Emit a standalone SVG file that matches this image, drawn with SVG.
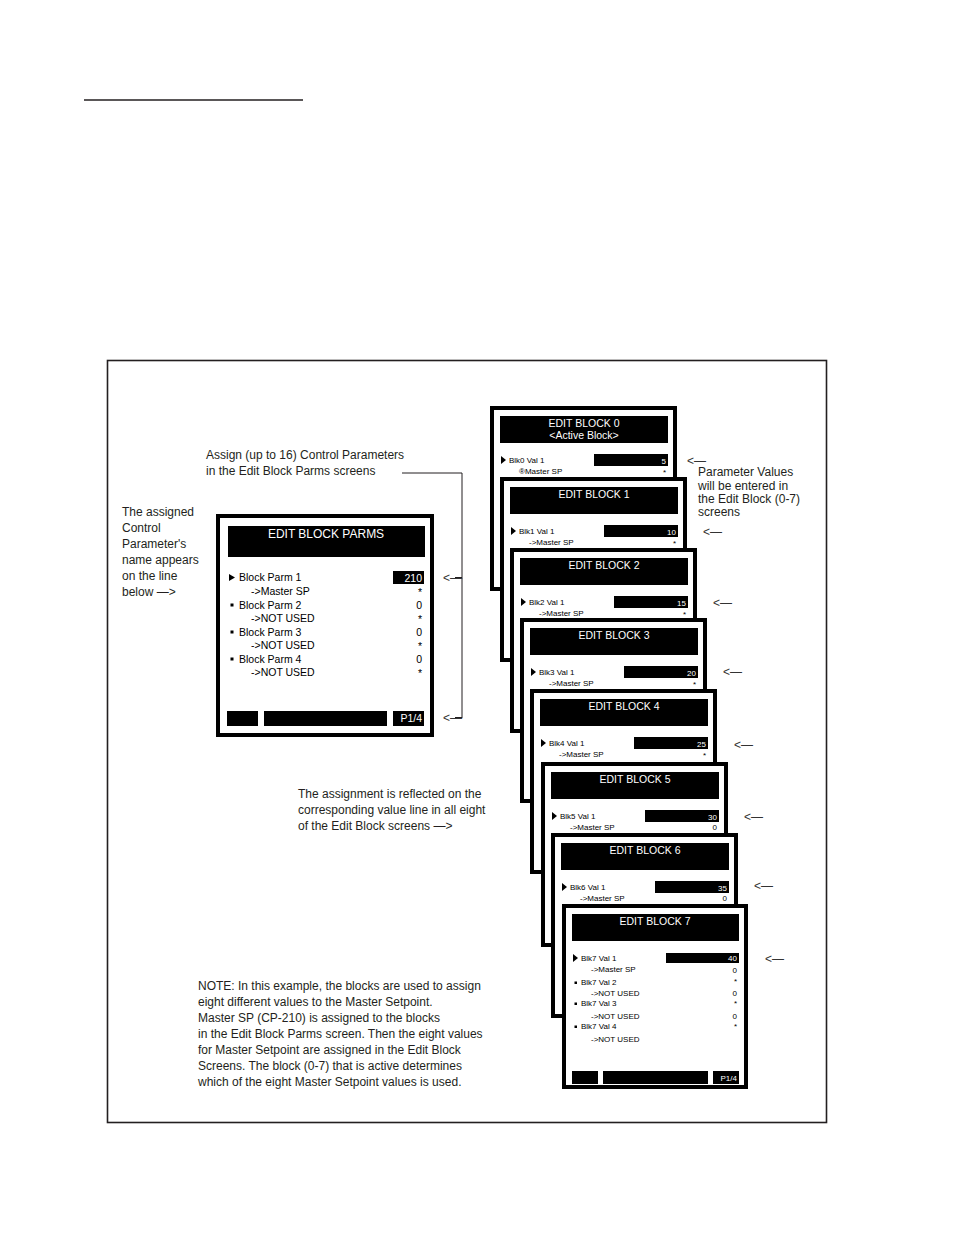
<svg xmlns="http://www.w3.org/2000/svg" width="954" height="1235" viewBox="0 0 954 1235">
<style>
text{font-family:"Liberation Sans",Arial,sans-serif;fill:#231f20}
.t{font-size:12px}
.scr{fill:#fff;stroke:#000;stroke-width:4}
.blk{fill:#000}
.ttl{font-size:10.5px;fill:#fff;text-anchor:middle}
.s8{font-size:8px;fill:#000}
.s10{font-size:10.5px;fill:#000}
.w{fill:#fff}
.r{text-anchor:end}
.cn{fill:none;stroke:#231f20;stroke-width:1}
.ar{font-size:12px;fill:#333}
</style>
<rect width="954" height="1235" fill="#fff"/>
<line x1="84" y1="100" x2="303" y2="100" stroke="#231f20" stroke-width="1.5"/>
<rect id="frame" x="107.5" y="360.5" width="719" height="762" fill="none" stroke="#231f20" stroke-width="1.6"/>

<g id="notes">
<text class="t" x="206" y="459">Assign (up to 16) Control Parameters</text>
<text class="t" x="206" y="475">in the Edit Block Parms screens</text>
<text class="t" x="122" y="516">The assigned</text>
<text class="t" x="122" y="532">Control</text>
<text class="t" x="122" y="548">Parameter's</text>
<text class="t" x="122" y="564">name appears</text>
<text class="t" x="122" y="580">on the line</text>
<text class="t" x="122" y="596">below —&gt;</text>
<text class="t" x="698" y="476">Parameter Values</text>
<text class="t" x="698" y="490">will be entered in</text>
<text class="t" x="698" y="503">the Edit Block (0-7)</text>
<text class="t" x="698" y="516">screens</text>
<text class="t" x="298" y="798">The assignment is reflected on the</text>
<text class="t" x="298" y="814">corresponding value line in all eight</text>
<text class="t" x="298" y="830">of the Edit Block screens —&gt;</text>
<text class="t" x="198" y="990">NOTE: In this example, the blocks are used to assign</text>
<text class="t" x="198" y="1006">eight different values to the Master Setpoint.</text>
<text class="t" x="198" y="1022">Master SP (CP-210) is assigned to the blocks</text>
<text class="t" x="198" y="1038">in the Edit Block Parms screen.  Then the eight values</text>
<text class="t" x="198" y="1054">for Master Setpoint are assigned in the Edit Block</text>
<text class="t" x="198" y="1070">Screens. The block (0-7) that is active determines</text>
<text class="t" x="198" y="1086">which of the eight Master Setpoint values is used.</text>
</g>

<g id="parms">
<rect class="scr" x="218" y="516" width="214" height="219"/>
<rect class="blk" x="228" y="526" width="197" height="31"/>
<text x="326" y="538" style="font-size:12px;fill:#fff;text-anchor:middle">EDIT BLOCK PARMS</text>
<path d="M229,574 L235,577.5 L229,581Z"/>
<text class="s10" x="239" y="581">Block Parm 1</text>
<text class="s10" x="251" y="595">-&gt;Master SP</text>
<rect class="blk" x="393" y="571" width="31" height="13"/>
<text class="s10 w r" x="422" y="581.5">210</text>
<text class="s10 r" x="422" y="596">*</text>
<rect class="blk" x="230.5" y="603.5" width="3" height="3"/>
<text class="s10" x="239" y="608.5">Block Parm 2</text>
<text class="s10" x="251" y="622">-&gt;NOT USED</text>
<text class="s10 r" x="422" y="609">0</text>
<text class="s10 r" x="422" y="623">*</text>
<rect class="blk" x="230.5" y="630.5" width="3" height="3"/>
<text class="s10" x="239" y="635.5">Block Parm 3</text>
<text class="s10" x="251" y="649">-&gt;NOT USED</text>
<text class="s10 r" x="422" y="636">0</text>
<text class="s10 r" x="422" y="650">*</text>
<rect class="blk" x="230.5" y="657.5" width="3" height="3"/>
<text class="s10" x="239" y="662.5">Block Parm 4</text>
<text class="s10" x="251" y="676">-&gt;NOT USED</text>
<text class="s10 r" x="422" y="663">0</text>
<text class="s10 r" x="422" y="677">*</text>
<rect class="blk" x="227" y="711" width="31" height="15"/>
<rect class="blk" x="264" y="711" width="123" height="15"/>
<rect class="blk" x="393" y="711" width="31" height="15"/>
<text class="s10 w r" x="422" y="722">P1/4</text>
</g>

<g id="block0" transform="translate(490,406)">
<rect class="scr" x="2" y="2" width="183" height="181"/>
<rect class="blk" x="10" y="10" width="168" height="27"/>
<text class="ttl" x="94" y="21">EDIT BLOCK 0</text>
<text class="ttl" x="94" y="33">&lt;Active Block&gt;</text>
<path d="M11,50 L16,54 L11,58Z"/>
<text class="s8" x="19" y="57">Blk0 Val 1</text>
<text class="s8" x="29" y="68">®Master SP</text>
<rect class="blk" x="104" y="48" width="74" height="12"/>
<text class="s8 w r" x="176" y="57.5">5</text>
<text class="s8 r" x="176" y="69">*</text>
</g>
<g id="block1" transform="translate(500,477)">
<rect class="scr" x="2" y="2" width="183" height="181"/>
<rect class="blk" x="10" y="10" width="168" height="27"/>
<text class="ttl" x="94" y="21">EDIT BLOCK 1</text>
<path d="M11,50 L16,54 L11,58Z"/>
<text class="s8" x="19" y="57">Blk1 Val 1</text>
<text class="s8" x="29" y="68">-&gt;Master SP</text>
<rect class="blk" x="104" y="48" width="74" height="12"/>
<text class="s8 w r" x="176" y="57.5">10</text>
<text class="s8 r" x="176" y="69">*</text>
</g>
<g id="block2" transform="translate(510,548)">
<rect class="scr" x="2" y="2" width="183" height="181"/>
<rect class="blk" x="10" y="10" width="168" height="27"/>
<text class="ttl" x="94" y="21">EDIT BLOCK 2</text>
<path d="M11,50 L16,54 L11,58Z"/>
<text class="s8" x="19" y="57">Blk2 Val 1</text>
<text class="s8" x="29" y="68">-&gt;Master SP</text>
<rect class="blk" x="104" y="48" width="74" height="12"/>
<text class="s8 w r" x="176" y="57.5">15</text>
<text class="s8 r" x="176" y="69">*</text>
</g>
<g id="block3" transform="translate(520,618)">
<rect class="scr" x="2" y="2" width="183" height="181"/>
<rect class="blk" x="10" y="10" width="168" height="27"/>
<text class="ttl" x="94" y="21">EDIT BLOCK 3</text>
<path d="M11,50 L16,54 L11,58Z"/>
<text class="s8" x="19" y="57">Blk3 Val 1</text>
<text class="s8" x="29" y="68">-&gt;Master SP</text>
<rect class="blk" x="104" y="48" width="74" height="12"/>
<text class="s8 w r" x="176" y="57.5">20</text>
<text class="s8 r" x="176" y="69">*</text>
</g>
<g id="block4" transform="translate(530,689)">
<rect class="scr" x="2" y="2" width="183" height="181"/>
<rect class="blk" x="10" y="10" width="168" height="27"/>
<text class="ttl" x="94" y="21">EDIT BLOCK 4</text>
<path d="M11,50 L16,54 L11,58Z"/>
<text class="s8" x="19" y="57">Blk4 Val 1</text>
<text class="s8" x="29" y="68">-&gt;Master SP</text>
<rect class="blk" x="104" y="48" width="74" height="12"/>
<text class="s8 w r" x="176" y="57.5">25</text>
<text class="s8 r" x="176" y="69">*</text>
</g>
<g id="block5" transform="translate(541,762)">
<rect class="scr" x="2" y="2" width="183" height="181"/>
<rect class="blk" x="10" y="10" width="168" height="27"/>
<text class="ttl" x="94" y="21">EDIT BLOCK 5</text>
<path d="M11,50 L16,54 L11,58Z"/>
<text class="s8" x="19" y="57">Blk5 Val 1</text>
<text class="s8" x="29" y="68">-&gt;Master SP</text>
<rect class="blk" x="104" y="48" width="74" height="12"/>
<text class="s8 w r" x="176" y="57.5">30</text>
<text class="s8 r" x="176" y="68">0</text>
</g>
<g id="block6" transform="translate(551,833)">
<rect class="scr" x="2" y="2" width="183" height="181"/>
<rect class="blk" x="10" y="10" width="168" height="27"/>
<text class="ttl" x="94" y="21">EDIT BLOCK 6</text>
<path d="M11,50 L16,54 L11,58Z"/>
<text class="s8" x="19" y="57">Blk6 Val 1</text>
<text class="s8" x="29" y="68">-&gt;Master SP</text>
<rect class="blk" x="104" y="48" width="74" height="12"/>
<text class="s8 w r" x="176" y="57.5">35</text>
<text class="s8 r" x="176" y="68">0</text>
</g>
<g id="block7" transform="translate(562,904)">
<rect class="scr" x="2" y="2" width="182" height="181"/>
<rect class="blk" x="10" y="10" width="167" height="27"/>
<text class="ttl" x="93" y="21">EDIT BLOCK 7</text>
<path d="M11,50 L16,54 L11,58Z"/>
<text class="s8" x="19" y="57">Blk7 Val 1</text>
<text class="s8" x="29" y="68">-&gt;Master SP</text>
<rect class="blk" x="104" y="49" width="73" height="10"/>
<text class="s8 w r" x="175" y="57">40</text>
<text class="s8 r" x="175" y="68.5">0</text>
<rect class="blk" x="12.5" y="77.5" width="2.5" height="2.5"/>
<text class="s8" x="19" y="80.5">Blk7 Val 2</text>
<text class="s8 r" x="175" y="80">*</text>
<text class="s8" x="29" y="92">-&gt;NOT USED</text>
<text class="s8 r" x="175" y="92">0</text>
<rect class="blk" x="12.5" y="98.5" width="2.5" height="2.5"/>
<text class="s8" x="19" y="102">Blk7 Val 3</text>
<text class="s8 r" x="175" y="102">*</text>
<text class="s8" x="29" y="115">-&gt;NOT USED</text>
<text class="s8 r" x="175" y="115">0</text>
<rect class="blk" x="12.5" y="121.5" width="2.5" height="2.5"/>
<text class="s8" x="19" y="125">Blk7 Val 4</text>
<text class="s8 r" x="175" y="125">*</text>
<text class="s8" x="29" y="138">-&gt;NOT USED</text>
<rect class="blk" x="10" y="167" width="26" height="13"/>
<rect class="blk" x="41" y="167" width="105" height="13"/>
<rect class="blk" x="151" y="167" width="26" height="13"/>
<text class="s8 w r" x="175" y="177">P1/4</text>
</g>

<g id="connectors">
<polyline class="cn" points="402,473 462,473 462,718"/>
<line class="cn" x1="455" y1="577.5" x2="462" y2="577.5"/>
<line class="cn" x1="455" y1="717.5" x2="462" y2="717.5"/>
<text class="ar" x="443" y="582">&lt;—</text>
<text class="ar" x="443" y="722">&lt;—</text>
<text class="ar" x="687" y="465">&lt;—</text>
<text class="ar" x="703" y="536">&lt;—</text>
<text class="ar" x="713" y="607">&lt;—</text>
<text class="ar" x="723" y="676">&lt;—</text>
<text class="ar" x="734" y="749">&lt;—</text>
<text class="ar" x="744" y="821">&lt;—</text>
<text class="ar" x="754" y="890">&lt;—</text>
<text class="ar" x="765" y="963">&lt;—</text>
</g>
</svg>
